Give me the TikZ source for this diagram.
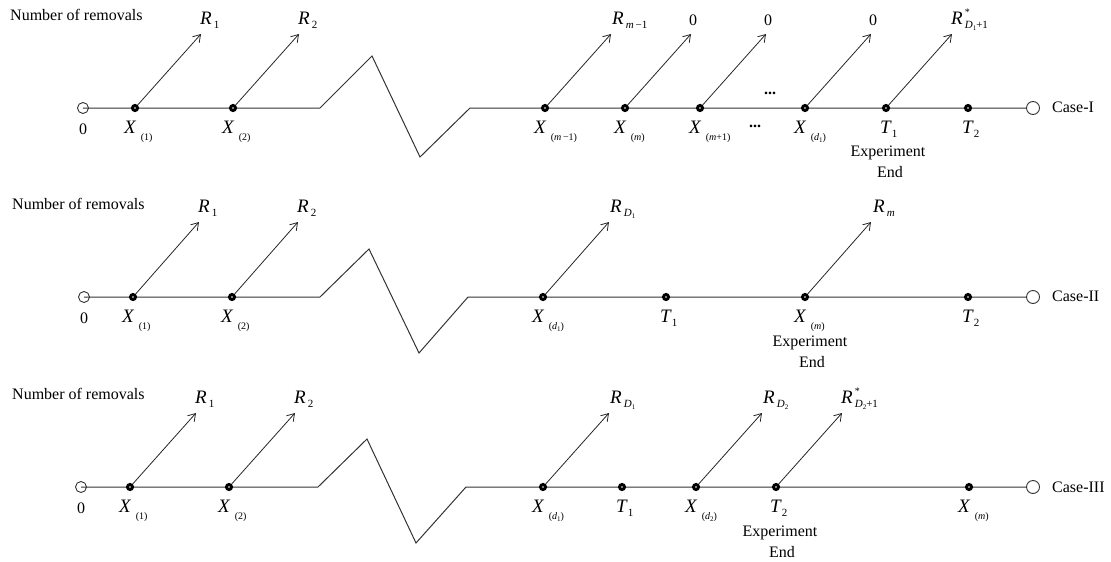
\documentclass[tikz,border=0pt]{standalone}
\usepackage{fontspec}
\setmainfont{Liberation Serif}
\usetikzlibrary{arrows.meta}
\newcommand\mv[1]{{\fontsize{19}{20}\selectfont\itshape #1}}
\newcommand\sbs[1]{\raisebox{-7pt}{\fontsize{10}{10}\selectfont #1}}
\newcommand\ssb[1]{\raisebox{-4pt}{\fontsize{11}{11}\selectfont #1}}
\newcommand\tsb[1]{\raisebox{-2pt}{\fontsize{7}{7}\selectfont #1}}
\newcommand\Xl[1]{\mv{X}\hspace{5pt}\sbs{#1}}
\newcommand\Rl[1]{\mv{R}\hspace{2pt}\ssb{#1}}
\newcommand\Rs[1]{\mv{R}\hspace{2pt}\rlap{\raisebox{9pt}{\fontsize{10}{10}\selectfont *}}\ssb{#1}}
\newcommand\Tl[1]{\mv{T}\hspace{1pt}\ssb{#1}}
\begin{document}
\begin{tikzpicture}[x=1pt,y=-1pt,
  every node/.style={font=\fontsize{16}{18}\selectfont, inner sep=0pt},
  axisline/.style={line width=1pt, black!80},
  arr/.style={line width=0.8pt, black!85, -{Straight Barb[length=7pt,width=9pt]}},
  dotpt/.style={circle, draw=black, line width=3pt, fill=white, minimum size=5pt, inner sep=0pt},
  opencirc/.style={circle, draw=black!80, line width=0.9pt, fill=white, minimum size=13pt, inner sep=0pt},
  smallcirc/.style={circle, draw=black!80, line width=0.9pt, minimum size=11pt, inner sep=0pt},
  xlab/.style={anchor=base west},
  rlab/.style={anchor=base west},
  tlab/.style={anchor=base west},
  zlab/.style={anchor=base}
]
\useasboundingbox (0,0) rectangle (1111,562);

% ================= Case I =================
\node[smallcirc] (aL) at (83,108) {};
\node[opencirc] (aR) at (1033,108) {};
\draw[axisline] (aL.center) -- (320,108) -- (372,56) -- (420,157) -- (470,108) -- (aR.west);
\node[dotpt] (a1) at (135,108) {};
\node[dotpt] (a2) at (233,108) {};
\node[dotpt] (a3) at (545,108) {};
\node[dotpt] (a4) at (625,108) {};
\node[dotpt] (a5) at (700,108) {};
\node[dotpt] (a6) at (805,108) {};
\node[dotpt] (a7) at (886,108) {};
\node[dotpt] (a8) at (968,108) {};
\draw[arr] (a1) -- ++(66,-74) coordinate (a1t);
\draw[arr] (a2) -- ++(66,-74) coordinate (a2t);
\draw[arr] (a3) -- ++(66,-74) coordinate (a3t);
\draw[arr] (a4) -- ++(66,-74) coordinate (a4t);
\draw[arr] (a5) -- ++(66,-74) coordinate (a5t);
\draw[arr] (a6) -- ++(66,-74) coordinate (a6t);
\draw[arr] (a7) -- ++(66,-74) coordinate (a7t);
\node (aT) [anchor=base west] at (10,20) {Number of removals};
\node[rlab] (a1r) at ([xshift=-1pt,yshift=10pt]a1t) {\Rl{1}};
\node[rlab] (a2r) at ([xshift=-1pt,yshift=10pt]a2t) {\Rl{2}};
\node[rlab] (a3r) at ([xshift=1pt,yshift=10pt]a3t) {\Rl{\textit{m}\,−1}};
\node[zlab] (a4r) at ([xshift=2pt,yshift=9pt]a4t) {0};
\node[zlab] (a5r) at ([xshift=2pt,yshift=9pt]a5t) {0};
\node[zlab] (a6r) at ([xshift=2pt,yshift=9pt]a6t) {0};
\node[rlab] (a7r) at ([xshift=-1pt,yshift=10pt]a7t) {\Rs{\textit{D}\tsb{1}+1}};
\node[zlab] (a0) at (83,134) {0};
\node[xlab] (a1x) at (124,133) {\Xl{(1)}};
\node[xlab] (a2x) at (222,133) {\Xl{(2)}};
\node[xlab] (a3x) at (534,133) {\Xl{(\textit{m}\,−1)}};
\node[xlab] (a4x) at (614,133) {\Xl{(\textit{m})}};
\node[xlab] (a5x) at (689,133) {\Xl{(\textit{m}+1)}};
\node[xlab] (a6x) at (794,133) {\Xl{(\textit{d}\tsb{1})}};
\node[tlab] (a7x) at (880,133) {\Tl{1}};
\node[tlab] (a8x) at (962,133) {\Tl{2}};
\node (adu) at (770,93) {\textbf{...}};
\node (add) at (755,126) {\textbf{...}};
\node (ae1) at (888,153) {Experiment};
\node (ae2) at (890,172) {End};
\node (ac) [anchor=west] at (1052,107) {Case-I};

% ================= Case II =================
\node[smallcirc] (bL) at (84,297) {};
\node[opencirc] (bR) at (1033,297) {};
\draw[axisline] (bL.center) -- (320,297) -- (369,249) -- (419,353) -- (468,297) -- (bR.west);
\node[dotpt] (b1) at (133,297) {};
\node[dotpt] (b2) at (232,297) {};
\node[dotpt] (b3) at (543,297) {};
\node[dotpt] (b4) at (666,297) {};
\node[dotpt] (b5) at (805,297) {};
\node[dotpt] (b6) at (968,297) {};
\draw[arr] (b1) -- ++(66,-75) coordinate (b1t);
\draw[arr] (b2) -- ++(66,-75) coordinate (b2t);
\draw[arr] (b3) -- ++(66,-75) coordinate (b3t);
\draw[arr] (b5) -- ++(66,-75) coordinate (b5t);
\node (bT) [anchor=base west] at (12,209) {Number of removals};
\node[rlab] (b1r) at ([xshift=-1pt,yshift=10pt]b1t) {\Rl{1}};
\node[rlab] (b2r) at ([xshift=-1pt,yshift=10pt]b2t) {\Rl{2}};
\node[rlab] (b3r) at ([xshift=1pt,yshift=10pt]b3t) {\Rl{\textit{D}\tsb{1}}};
\node[rlab] (b5r) at ([xshift=2pt,yshift=10pt]b5t) {\Rl{\textit{m}}};
\node[zlab] (b0) at (84,323) {0};
\node[xlab] (b1x) at (122,322) {\Xl{(1)}};
\node[xlab] (b2x) at (221,322) {\Xl{(2)}};
\node[xlab] (b3x) at (532,322) {\Xl{(\textit{d}\tsb{1})}};
\node[tlab] (b4x) at (660,322) {\Tl{1}};
\node[xlab] (b5x) at (794,322) {\Xl{(\textit{m})}};
\node[tlab] (b6x) at (962,322) {\Tl{2}};
\node (be1) at (810,343) {Experiment};
\node (be2) at (812,362) {End};
\node (bc) [anchor=west] at (1052,296) {Case-II};

% ================= Case III =================
\node[smallcirc] (cL) at (81,487) {};
\node[opencirc] (cR) at (1033,487) {};
\draw[axisline] (cL.center) -- (318,487) -- (367,439) -- (416,543) -- (466,487) -- (cR.west);
\node[dotpt] (c1) at (130,487) {};
\node[dotpt] (c2) at (229,487) {};
\node[dotpt] (c3) at (543,487) {};
\node[dotpt] (c4) at (622,487) {};
\node[dotpt] (c5) at (696,487) {};
\node[dotpt] (c6) at (776,487) {};
\node[dotpt] (c7) at (969,487) {};
\draw[arr] (c1) -- ++(66,-74) coordinate (c1t);
\draw[arr] (c2) -- ++(66,-74) coordinate (c2t);
\draw[arr] (c3) -- ++(66,-74) coordinate (c3t);
\draw[arr] (c5) -- ++(66,-74) coordinate (c5t);
\draw[arr] (c6) -- ++(66,-74) coordinate (c6t);
\node (cT) [anchor=base west] at (12,399) {Number of removals};
\node[rlab] (c1r) at ([xshift=-1pt,yshift=10pt]c1t) {\Rl{1}};
\node[rlab] (c2r) at ([xshift=-1pt,yshift=10pt]c2t) {\Rl{2}};
\node[rlab] (c3r) at ([xshift=1pt,yshift=10pt]c3t) {\Rl{\textit{D}\tsb{1}}};
\node[rlab] (c5r) at ([xshift=1pt,yshift=10pt]c5t) {\Rl{\textit{D}\tsb{2}}};
\node[rlab] (c6r) at ([xshift=-1pt,yshift=10pt]c6t) {\Rs{\textit{D}\tsb{2}+1}};
\node[zlab] (c0) at (81,513) {0};
\node[xlab] (c1x) at (119,512) {\Xl{(1)}};
\node[xlab] (c2x) at (218,512) {\Xl{(2)}};
\node[xlab] (c3x) at (532,512) {\Xl{(\textit{d}\tsb{1})}};
\node[tlab] (c4x) at (616,512) {\Tl{1}};
\node[xlab] (c5x) at (685,512) {\Xl{(\textit{d}\tsb{2})}};
\node[tlab] (c6x) at (770,512) {\Tl{2}};
\node[xlab] (c7x) at (958,512) {\Xl{(\textit{m})}};
\node (ce1) at (780,533) {Experiment};
\node (ce2) at (782,552) {End};
\node (cc) [anchor=west] at (1052,487) {Case-III};
\end{tikzpicture}
\end{document}
